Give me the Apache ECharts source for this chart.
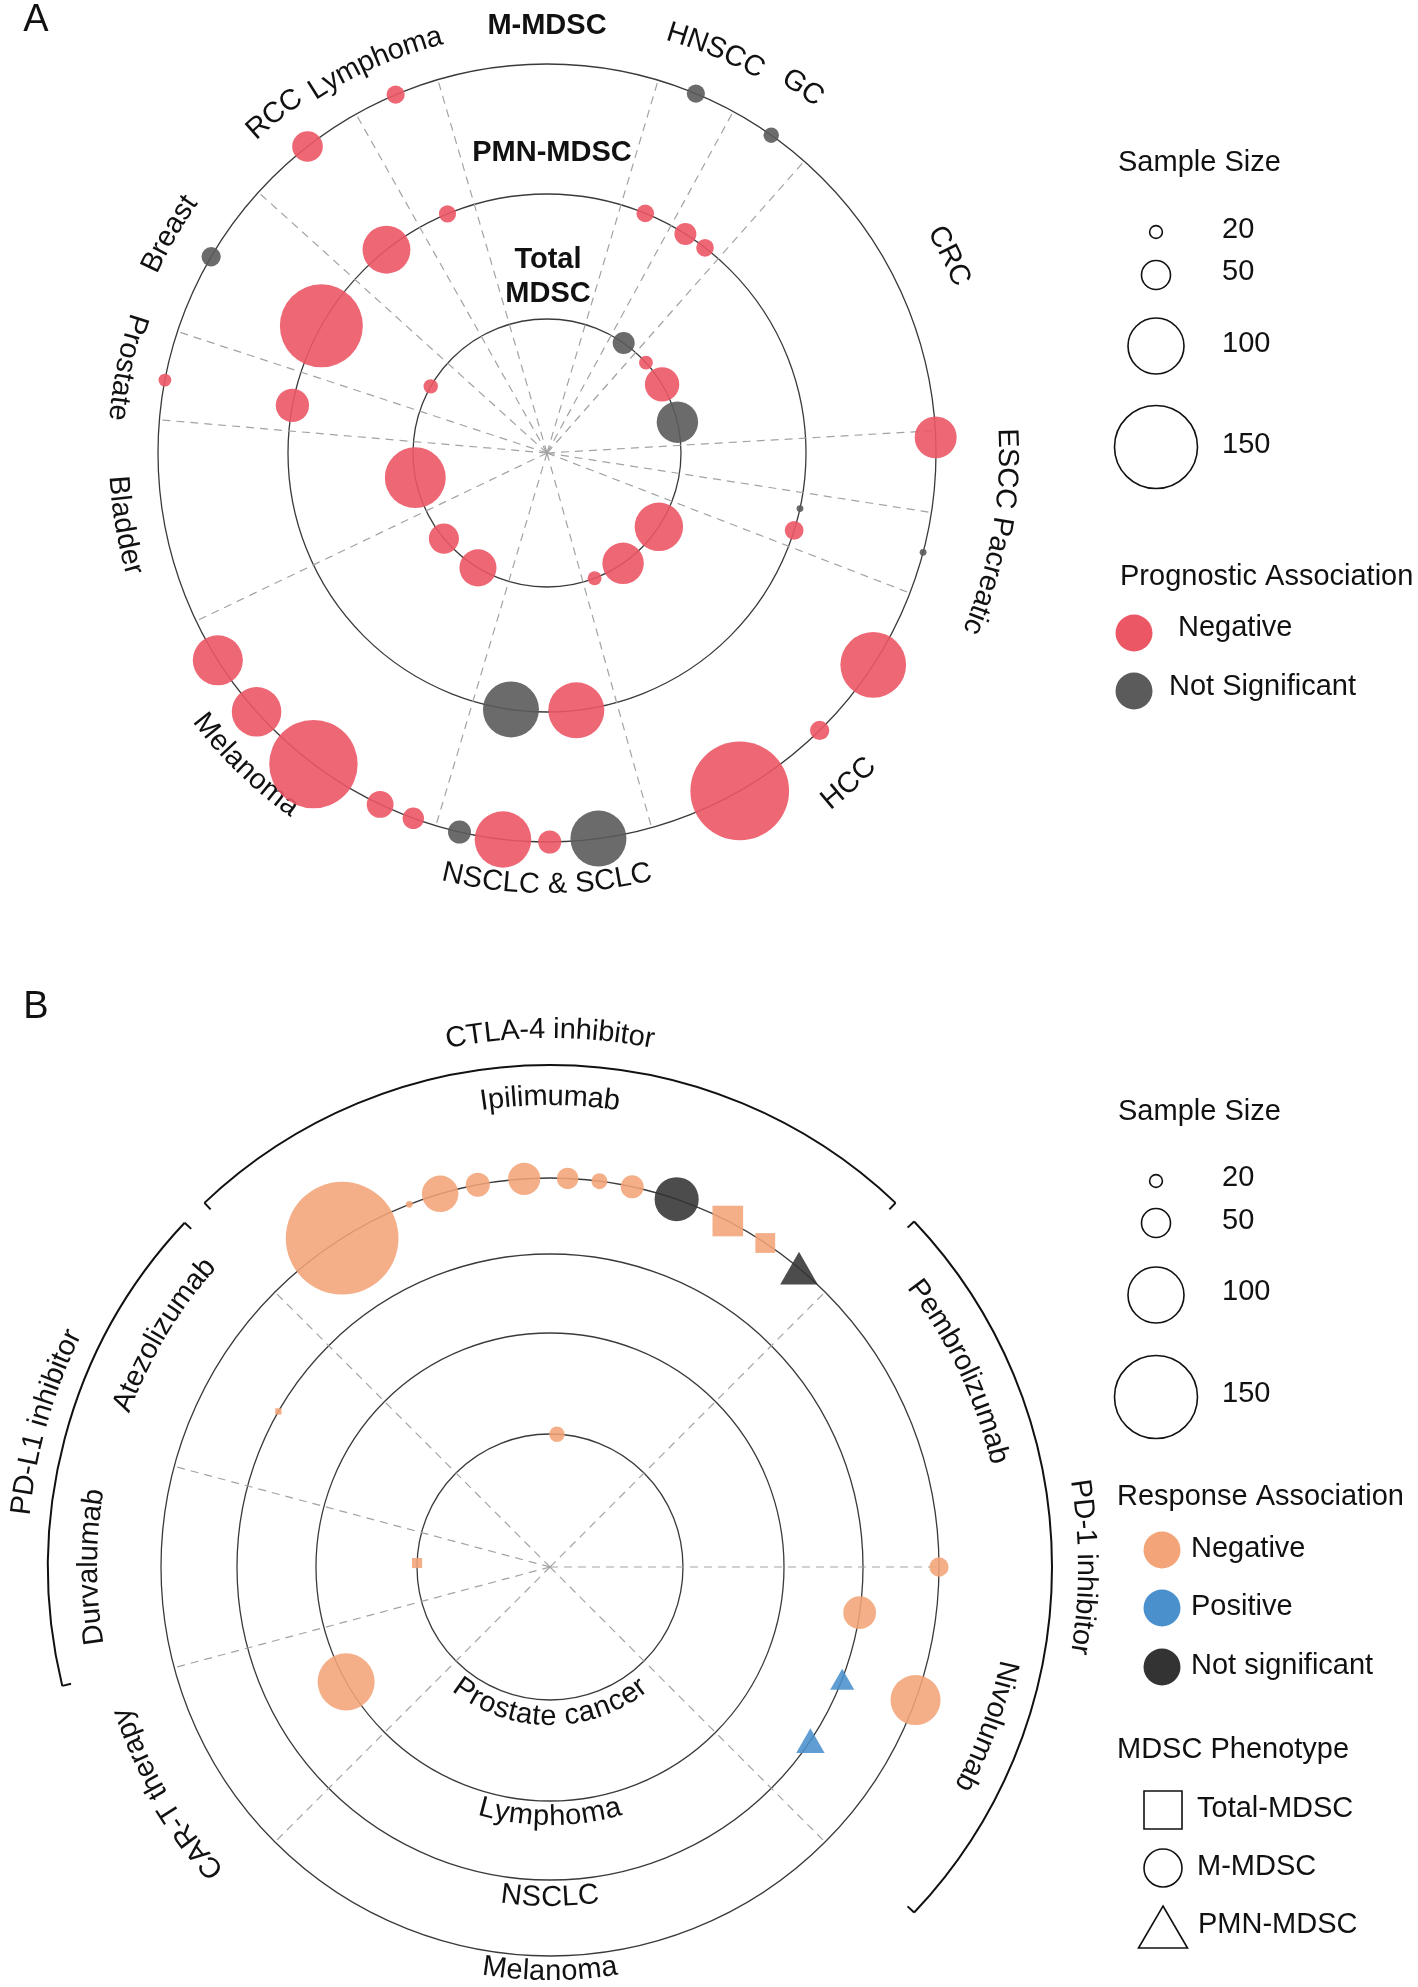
<!DOCTYPE html>
<html>
<head>
<meta charset="utf-8">
<title>MDSC prognostic / response rings</title>
<script src="https://cdn.jsdelivr.net/npm/echarts@6/dist/echarts.min.js"></script>
<style>
html, body { margin: 0; padding: 0; background: #fff; }
#main { width: 1418px; height: 1987px; }
</style>
</head>
<body>
<div id="main"></div>
<script>
// ---------- panel A : prognostic association ----------
// rings: 1 = Total MDSC, 2 = PMN-MDSC, 3 = M-MDSC
// each point: [ring, angle (deg, clockwise from 12 o'clock), sample size]
var progNegative = [
    [3, -22.9, 30], [3, -38.0, 53], [3, -79.2, 20], [3, 87.7, 74], [3, 123.0, 118],
    [3, 135.5, 32], [3, 150.3, 179], [3, 179.6, 39], [3, 186.5, 101], [3, 200.1, 36],
    [3, 205.4, 46], [3, 216.9, 160], [3, 228.3, 88], [3, 237.8, 89],
    [2, -22.6, 28], [2, -38.3, 85], [2, -60.6, 150], [2, -79.4, 58], [2, 22.3, 29],
    [2, 32.3, 37], [2, 37.6, 29], [2, 107.4, 31], [2, 173.5, 100],
    [1, -60.2, 23], [1, 47.6, 22], [1, 59.2, 60], [1, 123.4, 86], [1, 145.4, 73],
    [1, 159.2, 22], [1, 211.0, 65], [1, 230.3, 52], [1, 259.4, 109]
];
var progNotSig = [
    [3, -59.7, 32], [3, 22.5, 30], [3, 35.2, 25], [3, 104.8, 9], [3, 172.4, 100], [3, 193.0, 39],
    [2, 102.4, 9], [2, 188.0, 100],
    [1, 34.9, 37], [1, 76.7, 73]
];
var sectorLinesA = [-85.1, -71.8, -47.9, -29.4, -16.3, 16.6, 28.6, 41.4, 86.7, 98.8, 111.1, 164.4, 196.6, 244.4];
var cancerTypesA = ['RCC', 'Lymphoma', 'Breast', 'Prostate', 'HNSCC', 'GC', 'CRC', 'ESCC Pacreatic',
                    'HCC', 'NSCLC & SCLC', 'Melanoma', 'Bladder'];
var cancerAnglesA = [-38.8, -23.7, -59.9, -78.5, 22.7, 35, 63.9, 100, 137.6, 180, 224, 260.3];

// ---------- panel B : response association ----------
// rings: 1 = Prostate cancer, 2 = Lymphoma, 3 = NSCLC, 4 = Melanoma
// each point: [ring, angle, sample size, MDSC phenotype]
var respNegative = [
    [4, -32.3, 205, 'M'], [4, -21.2, 9, 'M'], [4, -16.4, 64, 'M'], [4, -10.7, 41, 'M'],
    [4, -3.8, 56, 'M'], [4, 2.6, 36, 'M'], [4, 7.3, 26, 'M'], [4, 12.2, 39, 'M'],
    [4, 27.2, 53, 'Total'], [4, 33.6, 33, 'Total'], [4, 90, 32, 'M'], [4, 110, 89, 'M'],
    [3, -60.2, 8, 'Total'], [3, 98.4, 57, 'M'],
    [2, 240.6, 102, 'M'],
    [1, 3, 25, 'M'], [1, -88.3, 15, 'Total']
];
var respPositive = [
    [3, 111, 41, 'PMN'], [3, 123.7, 49, 'PMN']
];
var respNotSig = [
    [4, 19.0, 78, 'M'], [4, 39.8, 66, 'PMN']
];
var ringNamesB = ['Prostate cancer', 'Lymphoma', 'NSCLC', 'Melanoma'];
var sectorLinesB = [-75, -45, 45, 90, 135, 225, 255];
var drugNames = ['Ipilimumab', 'Pembrolizumab', 'Nivolumab', 'Atezolizumab', 'Durvalumab', 'CAR-T therapy'];
var drugAngles = [0, 64.5, 110, -59, -90, 239.4];
var classNames = ['CTLA-4 inhibitor', 'PD-1 inhibitor', 'PD-L1 inhibitor'];
var classAngles = [0, 90, -74];
var classSpans = [[-43.5, 43.5], [46.5, 133.5], [-103.7, -46.7]];

var legendSizes = [20, 50, 100, 150];

// ---------- layout ----------
var CA = [547, 453], RA = 389;
var CB = [550, 1567], RB = 389;
var ringRadiusA = [134, 259, 389];
var ringRadiusB = [133, 234, 313, 389];
var labelRadiusA = [435, 430, 437, 431, 438, 446, 448, 460, 448, 432, 437, 430];
var drugRadius = [470, 461, 468, 456, 461, 452];
var classRadius = [537, 536, 531];
var ringLabelRadiusB = [150, 250, 331, 405];
var FONT = '"Liberation Sans", Arial, sans-serif';
var FS = 29;

var colA = { neg: '#EC5766', ns: '#5B5B5B' };
var colB = { neg: '#F3A478', pos: '#4A90CC', ns: '#333333' };
var shapeOf = { Total: 'rect', M: 'circle', PMN: 'triangle' };

function sizeOf(n) { return 0.54 * n + 2; }
function norm(a) { return ((a % 360) + 360) % 360; }
function rad(a) { return a * Math.PI / 180; }

var chart = echarts.init(document.getElementById('main'));

// dashed sector separators
function radialLines(angles, polarIndex, rMax) {
    return angles.map(function (a) {
        return {
            type: 'line', coordinateSystem: 'polar', polarIndex: polarIndex,
            data: [[0, norm(a)], [rMax, norm(a)]],
            symbol: 'none', silent: true, z: 1,
            lineStyle: { color: '#a3a3a3', width: 1.2, type: [8, 6] }
        };
    });
}

function scatterA(list, color) {
    return {
        type: 'scatter', coordinateSystem: 'polar', polarIndex: 0, z: 3,
        data: list.map(function (d) { return [ringRadiusA[d[0] - 1], norm(d[1]), d[2]]; }),
        symbolSize: function (v) { return sizeOf(v[2]); },
        itemStyle: { color: color, opacity: 0.9 }
    };
}

function scatterB(list, color) {
    return {
        type: 'scatter', coordinateSystem: 'polar', polarIndex: 1, z: 3,
        data: list.map(function (d) {
            var s = sizeOf(d[2]);
            return {
                value: [ringRadiusB[d[0] - 1], norm(d[1]), d[2]],
                symbol: shapeOf[d[3]],
                symbolSize: d[3] === 'PMN' ? [s, s * 0.87] : s
            };
        }),
        itemStyle: { color: color, opacity: 0.88 }
    };
}

// text bent along a circle; dir 1 = clockwise (tops outward), -1 = anticlockwise (tops inward)
var measureCtx = document.createElement('canvas').getContext('2d');
function arcText(c, r, mid, text, dir, weight) {
    var font = (weight || 'normal') + ' ' + FS + 'px ' + FONT;
    measureCtx.font = font;
    var chars = text.split('');
    var widths = chars.map(function (ch) { return measureCtx.measureText(ch).width; });
    var total = widths.reduce(function (a, b) { return a + b; }, 0);
    var out = [], acc = 0, m = rad(mid);
    chars.forEach(function (ch, i) {
        var off = (acc + widths[i] / 2 - total / 2) / r;
        var th = dir > 0 ? m + off : m - off;
        var rot = dir > 0 ? th : th - Math.PI;
        out.push({
            type: 'text', silent: true,
            x: c[0] + r * Math.sin(th), y: c[1] - r * Math.cos(th),
            rotation: -rot,
            style: { text: ch, fontSize: FS, fontFamily: FONT, fontWeight: weight || 'normal',
                     fill: '#111', align: 'center', verticalAlign: 'middle' }
        });
        acc += widths[i];
    });
    return out;
}

function plainText(x, y, text, opt) {
    opt = opt || {};
    return {
        type: 'text', silent: true, x: x, y: y,
        style: { text: text, fontSize: opt.size || FS, fontFamily: FONT, fontWeight: opt.weight || 'normal',
                 fill: '#111', align: opt.align || 'left', verticalAlign: 'middle' }
    };
}

function bracket(c, r, a0, a1) {
    var els = [{
        type: 'arc', silent: true,
        shape: { cx: c[0], cy: c[1], r: r, startAngle: rad(a0 - 90), endAngle: rad(a1 - 90), clockwise: true },
        style: { stroke: '#111', lineWidth: 2, fill: 'none' }
    }];
    [a0, a1].forEach(function (a) {
        var t = rad(a);
        els.push({
            type: 'line', silent: true,
            shape: { x1: c[0] + r * Math.sin(t), y1: c[1] - r * Math.cos(t),
                     x2: c[0] + (r - 9) * Math.sin(t), y2: c[1] - (r - 9) * Math.cos(t) },
            style: { stroke: '#111', lineWidth: 2 }
        });
    });
    return els;
}

var graphics = [];

// panel letters
graphics.push(plainText(36, 21, 'A', { size: 38, align: 'center' }));
graphics.push(plainText(36, 1008, 'B', { size: 38, align: 'center' }));

// panel A ring names
graphics.push(plainText(547, 26, 'M-MDSC', { weight: 'bold', align: 'center' }));
graphics.push(plainText(552, 153, 'PMN-MDSC', { weight: 'bold', align: 'center' }));
graphics.push(plainText(548, 260, 'Total', { weight: 'bold', align: 'center' }));
graphics.push(plainText(548, 294, 'MDSC', { weight: 'bold', align: 'center' }));

// panel A cancer labels
cancerTypesA.forEach(function (t, i) {
    var a = norm(cancerAnglesA[i]);
    var dir = (a > 120 && a < 300) ? -1 : 1;
    graphics = graphics.concat(arcText(CA, labelRadiusA[i], cancerAnglesA[i], t, dir));
});

// panel B labels
classNames.forEach(function (t, i) {
    graphics = graphics.concat(arcText(CB, classRadius[i], classAngles[i], t, 1));
    graphics = graphics.concat(bracket(CB, 502, classSpans[i][0], classSpans[i][1]));
});
drugNames.forEach(function (t, i) {
    graphics = graphics.concat(arcText(CB, drugRadius[i], drugAngles[i], t, 1));
});
ringNamesB.forEach(function (t, i) {
    graphics = graphics.concat(arcText(CB, ringLabelRadiusB[i], 180, t, -1));
});

// size legends
function sizeLegend(titleY, cys, tys) {
    var els = [plainText(1118, titleY, 'Sample Size')];
    legendSizes.forEach(function (n, i) {
        els.push({
            type: 'circle', silent: true,
            shape: { cx: 1156, cy: cys[i], r: sizeOf(n) / 2 },
            style: { fill: 'none', stroke: '#111', lineWidth: 1.6 }
        });
        els.push(plainText(1222, tys[i], String(n)));
    });
    return els;
}
graphics = graphics.concat(sizeLegend(163, [232, 275, 346, 447], [230, 272, 344, 445]));
graphics = graphics.concat(sizeLegend(1112, [1181, 1223, 1295, 1397], [1178, 1221, 1292, 1394]));

function dot(cx, cy, color) {
    return { type: 'circle', silent: true, shape: { cx: cx, cy: cy, r: 18.5 }, style: { fill: color } };
}
// panel A colour legend
graphics.push(plainText(1120, 577, 'Prognostic Association'));
graphics.push(dot(1134, 633, colA.neg));
graphics.push(plainText(1178, 628, 'Negative'));
graphics.push(dot(1134, 691, colA.ns));
graphics.push(plainText(1169, 687, 'Not Significant'));

// panel B colour legend
graphics.push(plainText(1117, 1497, 'Response Association'));
graphics.push(dot(1162, 1550, colB.neg));
graphics.push(plainText(1191, 1549, 'Negative'));
graphics.push(dot(1162, 1608, colB.pos));
graphics.push(plainText(1191, 1607, 'Positive'));
graphics.push(dot(1162, 1667, colB.ns));
graphics.push(plainText(1191, 1666, 'Not significant'));

// phenotype legend
graphics.push(plainText(1117, 1750, 'MDSC Phenotype'));
graphics.push({ type: 'rect', silent: true, shape: { x: 1144, y: 1791, width: 38, height: 38 },
                style: { fill: 'none', stroke: '#111', lineWidth: 1.6 } });
graphics.push(plainText(1197, 1809, 'Total-MDSC'));
graphics.push({ type: 'circle', silent: true, shape: { cx: 1163, cy: 1868, r: 19 },
                style: { fill: 'none', stroke: '#111', lineWidth: 1.6 } });
graphics.push(plainText(1197, 1867, 'M-MDSC'));
graphics.push({ type: 'polygon', silent: true, shape: { points: [[1163, 1906], [1187.5, 1948], [1138.5, 1948]] },
                style: { fill: 'none', stroke: '#111', lineWidth: 1.6 } });
graphics.push(plainText(1198, 1925, 'PMN-MDSC'));

var hiddenAngle = {
    type: 'value', min: 0, max: 360, startAngle: 90, clockwise: true,
    axisLine: { show: false }, axisTick: { show: false }, axisLabel: { show: false }, splitLine: { show: false }
};

var option = {
    animation: false,
    backgroundColor: '#fff',
    polar: [
        { center: CA, radius: RA },
        { center: CB, radius: RB }
    ],
    angleAxis: [
        Object.assign({ polarIndex: 0 }, hiddenAngle),
        Object.assign({ polarIndex: 1 }, hiddenAngle)
    ],
    radiusAxis: [
        {
            polarIndex: 0, type: 'value', min: 0, max: RA,
            axisLine: { show: false },
            axisTick: { show: false, customValues: ringRadiusA },
            axisLabel: { show: false, customValues: ringRadiusA },
            splitLine: { show: true, lineStyle: { color: '#3a3a3a', width: 1.3 } }
        },
        {
            polarIndex: 1, type: 'value', min: 0, max: RB,
            axisLine: { show: false },
            axisTick: { show: false, customValues: ringRadiusB },
            axisLabel: { show: false, customValues: ringRadiusB },
            splitLine: { show: true, lineStyle: { color: '#3a3a3a', width: 1.3 } }
        }
    ],
    series: []
        .concat(radialLines(sectorLinesA, 0, RA))
        .concat(radialLines(sectorLinesB, 1, RB))
        .concat([
            scatterA(progNegative, colA.neg),
            scatterA(progNotSig, colA.ns),
            scatterB(respNegative, colB.neg),
            scatterB(respPositive, colB.pos),
            scatterB(respNotSig, colB.ns)
        ]),
    graphic: { elements: graphics }
};

chart.setOption(option);
</script>
</body>
</html>
